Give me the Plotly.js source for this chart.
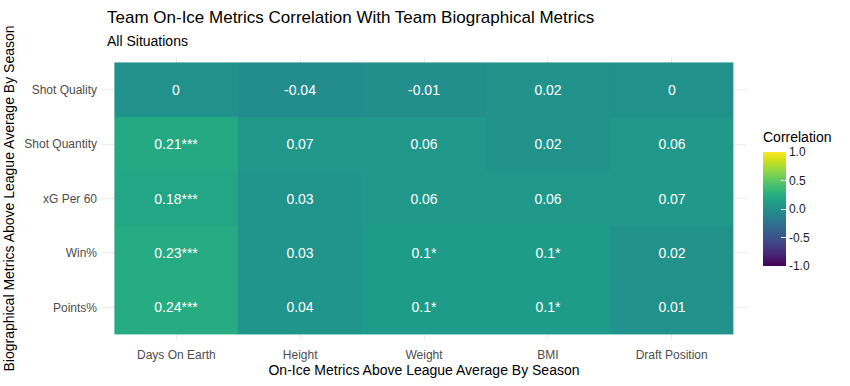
<!DOCTYPE html>
<html><head><meta charset="utf-8">
<script src="https://cdn.plot.ly/plotly-3.0.1.min.js"></script>
<style>body{margin:0;background:#fff}#chart{width:850px;height:386px}</style>
</head><body><div id="chart"></div>
<script>
const xCats = ['Days On Earth','Height','Weight','BMI','Draft Position'];
const yCats = ['Shot Quality','Shot Quantity','xG Per 60','Win%','Points%'];
const corr = [
  [0, -0.04, -0.01, 0.02, 0],
  [0.21, 0.07, 0.06, 0.02, 0.06],
  [0.18, 0.03, 0.06, 0.06, 0.07],
  [0.23, 0.03, 0.1, 0.1, 0.02],
  [0.24, 0.04, 0.1, 0.1, 0.01]
];
const labels = [
  ['0','-0.04','-0.01','0.02','0'],
  ['0.21***','0.07','0.06','0.02','0.06'],
  ['0.18***','0.03','0.06','0.06','0.07'],
  ['0.23***','0.03','0.1*','0.1*','0.02'],
  ['0.24***','0.04','0.1*','0.1*','0.01']
];
const cbTicks = [-1,-0.5,0,0.5,1];
const cbTickText = ['-1.0','-0.5','0.0','0.5','1.0'];

const font = 'Liberation Sans, Arial, sans-serif';
const trace = {
  type:'heatmap', x:xCats, y:yCats, z:corr, text:labels,
  texttemplate:'%{text}', textfont:{family:font,size:14,color:'#ffffff'},
  colorscale:'Viridis', zmin:-1, zmax:1, hoverinfo:'skip',
  colorbar:{
    thickness:23, len:114, lenmode:'pixels', x:(764-101.6)/645, xanchor:'left', xref:'paper', xpad:0,
    y:(340.5-152)/284, yanchor:'top', ypad:0, outlinewidth:0,
    tickvals:cbTicks, ticktext:cbTickText, ticks:'inside', tickcolor:'#ffffff', ticklen:5,
    tickfont:{family:font,size:12,color:'#1a1a1a'}
  }
};
const layout = {
  width:850, height:386,
  margin:{l:101.6, r:103.6, t:56.5, b:45.5, autoexpand:false},
  paper_bgcolor:'#fff', plot_bgcolor:'#fff',
  font:{family:font},
  xaxis:{type:'category', categoryarray:xCats, range:[-0.6,4.6], showgrid:true, gridcolor:'#ebebeb',
    zeroline:false, ticks:'', tickfont:{family:font,size:12,color:'#4d4d4d'}, ticklabelstandoff:6,
    title:{text:'On-Ice Metrics Above League Average By Season', font:{family:font,size:14,color:'#000'}, standoff:2}},
  yaxis:{type:'category', categoryarray:yCats, range:[4.6,-0.6], showgrid:true, gridcolor:'#ebebeb',
    zeroline:false, ticks:'', tickfont:{family:font,size:12,color:'#4d4d4d'}, ticklabelstandoff:4,
    title:{text:'Biographical Metrics Above League Average By Season', font:{family:font,size:14,color:'#000'}, standoff:6}},
  annotations:[
    {text:'Team On-Ice Metrics Correlation With Team Biographical Metrics', xref:'paper', yref:'paper',
     x:0.004, y:1, xanchor:'left', yanchor:'bottom', yshift:28, showarrow:false,
     font:{family:font,size:17,color:'#000'}},
    {text:'All Situations', xref:'paper', yref:'paper', x:0.004, y:1, xanchor:'left', yanchor:'bottom',
     yshift:6, showarrow:false, font:{family:font,size:14,color:'#000'}},
    {text:'Correlation', xref:'paper', yref:'paper', x:(762-101.6)/645, y:(340.5-147)/284,
     xanchor:'left', yanchor:'bottom', showarrow:false, font:{family:font,size:14,color:'#000'}}
  ]
};
Plotly.newPlot('chart',[trace],layout,{displayModeBar:false,staticPlot:true});
</script></body></html>
